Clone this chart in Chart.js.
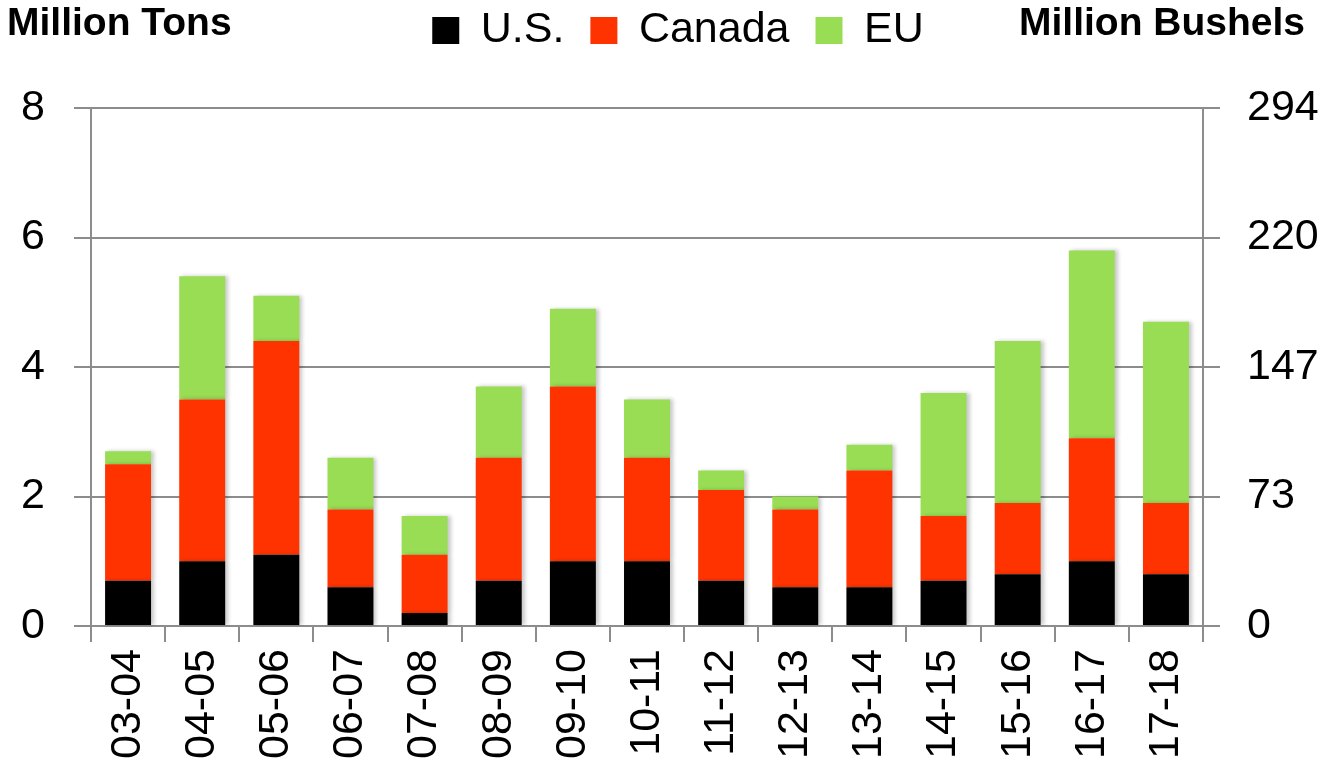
<!DOCTYPE html>
<html>
<head>
<meta charset="utf-8">
<script src="https://cdn.jsdelivr.net/npm/chart.js@4.4.1/dist/chart.umd.min.js"></script>
<style>
  html, body { margin: 0; padding: 0; background: #fff; }
  #wrap { width: 1321px; height: 769px; position: relative; }
</style>
</head>
<body>
<div id="wrap"><canvas id="c" width="1321" height="769"></canvas></div>
<script>
const categories = ["03-04","04-05","05-06","06-07","07-08","08-09","09-10","10-11","11-12","12-13","13-14","14-15","15-16","16-17","17-18"];
const usValues     = [0.7, 1.0, 1.1, 0.6, 0.2, 0.7, 1.0, 1.0, 0.7, 0.6, 0.6, 0.7, 0.8, 1.0, 0.8];
const canadaValues = [1.8, 2.5, 3.3, 1.2, 0.9, 1.9, 2.7, 1.6, 1.4, 1.2, 1.8, 1.0, 1.1, 1.9, 1.1];
const euValues     = [0.2, 1.9, 0.7, 0.8, 0.6, 1.1, 1.2, 0.9, 0.3, 0.2, 0.4, 1.9, 2.5, 2.9, 2.8];
const leftTickMax = 8;
const leftTickStep = 2;
const rightTickMax = 294;
const rightTickLabels = ["0", "73", "147", "220", "294"];
const leftTitle = "Million Tons";
const rightTitle = "Million Bushels";

const FONT = "'Liberation Sans', Arial, sans-serif";
const GRID = "#8c8c8c";

// layout targets
const PAD_L = 0, PAD_R = -35, PAD_T = -17;
const AREA_L = 91, AREA_R = 1203, AREA_T = 108, AREA_B = 626;

const titlesPlugin = {
  id: 'titles',
  afterInit(chart) {
    const lg = chart.legend;
    if (lg && !lg._patched) {
      const origFit = lg.fit.bind(lg);
      lg.fit = function () { origFit(); this.height = AREA_T - PAD_T; };
      lg._patched = true;
    }
  },
  beforeDatasetsDraw(chart) {
    const ctx = chart.ctx;
    ctx.save();
    ctx.shadowColor = 'rgba(0,0,0,0.22)';
    ctx.shadowBlur = 4;
    ctx.shadowOffsetX = 3;
    ctx.shadowOffsetY = 0;
  },
  afterDatasetsDraw(chart) {
    chart.ctx.restore();
  },
  afterDraw(chart) {
    const ctx = chart.ctx;
    ctx.save();
    ctx.fillStyle = '#000';
    ctx.font = "bold 39px " + FONT;
    ctx.textBaseline = 'alphabetic';
    ctx.textAlign = 'left';
    ctx.fillText(leftTitle, 7, 35);
    ctx.textAlign = 'right';
    ctx.fillText(rightTitle, 1305, 35);
    ctx.restore();
  }
};

new Chart(document.getElementById('c'), {
  type: 'bar',
  data: {
    labels: categories,
    datasets: [
      { label: 'U.S.', data: usValues, backgroundColor: '#000000', yAxisID: 'y' },
      { label: 'Canada', data: canadaValues, backgroundColor: '#ff3300', yAxisID: 'y' },
      { label: 'EU', data: euValues, backgroundColor: '#99dd55', yAxisID: 'y' }
    ]
  },
  options: {
    responsive: false,
    animation: false,
    devicePixelRatio: 1,
    layout: { padding: { left: PAD_L, right: PAD_R, top: PAD_T, bottom: 0 } },
    datasets: { bar: { barPercentage: 0.62, categoryPercentage: 1.0, borderWidth: 0 } },
    plugins: {
      legend: {
        display: true,
        position: 'top',
        align: 'center',
        labels: {
          font: { family: FONT, size: 43 },
          color: '#000',
          boxWidth: 27,
          boxHeight: 27,
          padding: 26
        }
      },
      tooltip: { enabled: false }
    },
    scales: {
      x: {
        stacked: true,
        afterFit(s) { s.height = 769 - AREA_B; },
        grid: { offset: true, drawOnChartArea: false, color: GRID, lineWidth: 2, tickLength: 16 },
        border: { color: GRID, width: 2 },
        ticks: { font: { family: FONT, size: 43 }, color: '#000', minRotation: 90, maxRotation: 90, autoSkip: false, padding: 7 }
      },
      y: {
        stacked: true,
        position: 'left',
        min: 0,
        max: leftTickMax,
        afterFit(s) { s.width = AREA_L - PAD_L; },
        grid: { color: GRID, lineWidth: 2, tickLength: 17 },
        border: { color: GRID, width: 2 },
        ticks: { stepSize: leftTickStep, font: { family: FONT, size: 43 }, color: '#000', padding: 29 }
      },
      y2: {
        position: 'right',
        min: 0,
        max: rightTickMax,
        afterFit(s) { s.width = 1321 - PAD_R - AREA_R; },
        grid: { drawOnChartArea: false, color: GRID, lineWidth: 2, tickLength: 17 },
        border: { color: GRID, width: 2 },
        ticks: {
          stepSize: rightTickMax / (rightTickLabels.length - 1),
          font: { family: FONT, size: 43 },
          color: '#000',
          padding: 27,
          callback: (v, i) => rightTickLabels[i]
        }
      }
    }
  },
  plugins: [titlesPlugin]
});
</script>
</body>
</html>
